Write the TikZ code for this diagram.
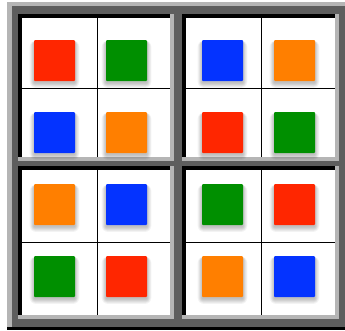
\documentclass[tikz,border=0pt]{standalone}
\usepackage{tikz}
\usetikzlibrary{positioning}
\usepackage{xcolor}
\definecolor{tilered}{HTML}{FF2600}
\definecolor{tilegreen}{HTML}{008F00}
\definecolor{tileblue}{HTML}{0433FF}
\definecolor{tileorange}{HTML}{FF7F00}
\definecolor{framelight}{HTML}{B5B5B5}
\definecolor{framedark}{HTML}{5E5E5E}

\begin{document}
\begin{tikzpicture}[
x=1pt, y=-1pt,
tile/.style={rectangle, minimum size=41pt, inner sep=0, outer sep=0, rounded corners=1pt},
tileshadow/.style={black, opacity=0.045},
gridline/.style={line width=1pt, black}
]
\useasboundingbox (0,0) rectangle (345,330);
\fill[white] (0,0) rectangle (345,330);
% outer frame
\fill[framelight] (7,2) rectangle (345,327);
\fill[black] (7,327) rectangle (345,330);
\fill[framedark] (12,6) rectangle (345,327);
% the four panels
\foreach \xa/\ya/\xb/\yb/\vx/\hy in {22/18/170/157/97/88, 186/18/335/157/261/88,
    22/170/170/315/97/242, 186/170/335/315/261/242} {
  \fill[framelight] (\xa-4,\ya-4) rectangle (\xb+4,\yb+4);
  \fill[black] (\xa-4,\ya-4) rectangle (\xb,\yb);
  \fill[white] (\xa,\ya) rectangle (\xb,\yb);
  \draw[gridline] (\vx,\ya) -- (\vx,\yb);
  \draw[gridline] (\xa,\hy) -- (\xb,\hy);
}
% coloured tiles
\foreach \n/\cx/\cy/\c in {
    a1/54.5/60.5/tilered, a2/126.5/60.5/tilegreen, a3/54.5/132.5/tileblue, a4/126.5/132.5/tileorange,
    b1/222.5/60.5/tileblue, b2/294.5/60.5/tileorange, b3/222.5/132.5/tilered, b4/294.5/132.5/tilegreen,
    c1/54.5/204.5/tileorange, c2/126.5/204.5/tileblue, c3/54.5/276.5/tilegreen, c4/126.5/276.5/tilered,
    d1/222.5/204.5/tilegreen, d2/294.5/204.5/tilered, d3/222.5/276.5/tileorange, d4/294.5/276.5/tileblue} {
  \foreach \s in {1,...,6}
    \fill[tileshadow, rounded corners=\s pt] (\cx-20-\s*0.8,\cy-18-\s*0.3) rectangle (\cx+20+\s*0.8,\cy+22+\s*0.9);
  \node[tile, fill=\c] (\n) at (\cx,\cy) {};
}
\end{tikzpicture}
\end{document}
